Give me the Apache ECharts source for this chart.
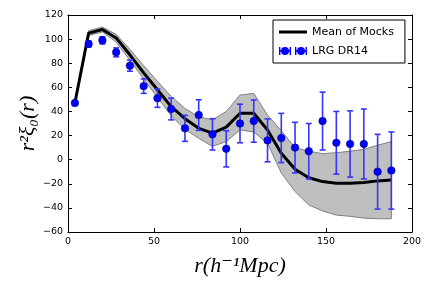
<!DOCTYPE html>
<html><head><meta charset="utf-8">
<script src="https://cdn.jsdelivr.net/npm/echarts@6/dist/echarts.min.js"></script>
<style>html,body{margin:0;padding:0;background:#fff}#c{width:432px;height:288px}</style>
</head><body><div id="c"></div>
<script>
const r = [4,12,20,28,36,44,52,60,68,76,84,92,100,108,116,124,132,140,148,156,164,172,180,188];
const xiData = [47,96,99,89,78,61,51,42,26,37,21,9,30,32,16,18,10,7,32,14,13,13,-10,-9];
const xiErr = [2,2.5,3,3.7,4.6,6,7.6,9,10.8,12.7,13,15,16,17.5,17.8,20.4,21,23,24,26,27.5,29,31,32];
const mockMean = [47,105,108,101,87,72,58,44,34,26,22,27,38.5,38.5,24.6,5.3,-8,-15,-18.2,-19.6,-19.6,-19,-17.6,-16.8];
const mockUpper = [49,107,110,104,91.5,78,65,52.5,42.5,35.6,33,40,53.6,55,37,24,10,7,5,5.8,7,8.6,12,15];
const mockLower = [46,103,106,97.5,82.5,67,51.5,36.5,25,17.7,11,15,24.6,23,13.6,-11,-26.5,-37.6,-42.5,-46,-47,-48.5,-49,-49];
const xTicks = [0,50,100,150,200];
const yTicks = [-60,-40,-20,0,20,40,60,80,100,120];

const chart = echarts.init(document.getElementById('c'), null, {renderer:'canvas'});
const tickFont = {fontFamily:'DejaVu Sans', fontSize:9.5, color:'#000'};
const titleFont = {fontFamily:"'Liberation Serif','DejaVu Serif',serif", fontStyle:'italic', fontSize:22, color:'#000'};
const axLine = {show:true, onZero:false, lineStyle:{color:'#000', width:1}};
const axTick = {show:true, inside:true, length:4, lineStyle:{color:'#000', width:1}};
const xBase = {type:'value', min:xTicks[0], max:xTicks[xTicks.length-1], interval:xTicks[1]-xTicks[0], splitLine:{show:false}, axisLine:axLine, axisTick:axTick};
const yBase = {type:'value', min:yTicks[0], max:yTicks[yTicks.length-1], interval:yTicks[1]-yTicks[0], splitLine:{show:false}, axisLine:axLine, axisTick:axTick};
const errIcon = 'path://M0,2h1.4v8h-1.4z M10.6,2h1.4v8h-1.4z M0,5.3h12v1.4h-12z M2,6a4,4 0 1,1 8,0a4,4 0 1,1 -8,0z M16,2h1.4v8h-1.4z M26.6,2h1.4v8h-1.4z M16,5.3h12v1.4h-12z M18,6a4,4 0 1,1 8,0a4,4 0 1,1 -8,0z';
const lineIcon = 'path://M0,0h28v3h-28z';

chart.setOption({
  animation:false,
  grid:{left:68, right:20, top:15, bottom:56},
  xAxis:[
    Object.assign({}, xBase, {position:'bottom', axisLabel:Object.assign({margin:5}, tickFont),
      name:'r(h\u207B\u00B9Mpc)', nameLocation:'middle', nameGap:23, nameMoveOverlap:false, nameTextStyle:titleFont}),
    Object.assign({}, xBase, {position:'top', axisLabel:{show:false}})
  ],
  yAxis:[
    Object.assign({}, yBase, {position:'left', axisLabel:Object.assign({margin:5, formatter:v=>String(v).replace('-','\u2212')}, tickFont),
      name:'r\u00B2\u03BE\u2080(r)', nameLocation:'middle', nameGap:29, nameMoveOverlap:false, nameRotate:90, nameTextStyle:titleFont}),
    Object.assign({}, yBase, {position:'right', axisLabel:{show:false}})
  ],
  legend:{left:273, top:20, orient:'vertical', backgroundColor:'#fff', borderColor:'#000', borderWidth:1, borderRadius:0,
    padding:[5,11,5,6], itemGap:5, itemWidth:28, itemHeight:12, symbolKeepAspect:true,
    textStyle:{fontFamily:'DejaVu Sans', fontSize:11, color:'#000', lineHeight:14},
    data:[{name:'Mean of Mocks', icon:lineIcon, itemStyle:{color:'#000'}}, {name:'LRG DR14', icon:errIcon, itemStyle:{color:'#0000ff'}}]},
  series:[
    {type:'custom', name:'band', silent:true, z:1,
      data:r.map((x,i)=>[x, mockUpper[i], mockLower[i]]),
      encode:{x:0, y:[1,2]},
      renderItem:function(params, api){
        if (params.dataIndex !== 0) return null;
        const pts = [];
        for (let i=0;i<r.length;i++) pts.push(api.coord([r[i], mockUpper[i]]));
        for (let i=r.length-1;i>=0;i--) pts.push(api.coord([r[i], mockLower[i]]));
        return {type:'polygon', shape:{points:pts}, style:{fill:'#bfbfbf', stroke:'#808080', lineWidth:1}};
      }},
    {type:'line', name:'Mean of Mocks', z:3, symbol:'none', data:r.map((x,i)=>[x, mockMean[i]]),
      lineStyle:{color:'#000', width:3}, itemStyle:{color:'#000'}},
    {type:'custom', name:'LRG DR14', z:4, silent:true,
      data:r.map((x,i)=>[x, xiData[i], xiErr[i]]),
      encode:{x:0, y:1},
      itemStyle:{color:'#0000ff'},
      renderItem:function(params, api){
        const x = api.value(0), y = api.value(1), e = api.value(2);
        const top = api.coord([x, y+e]), bot = api.coord([x, y-e]);
        const hw = 3;
        const st = {stroke:'#3535ff', lineWidth:1.6};
        return {type:'group', children:[
          {type:'line', shape:{x1:top[0],y1:top[1],x2:bot[0],y2:bot[1]}, style:st},
          {type:'line', shape:{x1:top[0]-hw,y1:top[1],x2:top[0]+hw,y2:top[1]}, style:st},
          {type:'line', shape:{x1:bot[0]-hw,y1:bot[1],x2:bot[0]+hw,y2:bot[1]}, style:st}
        ]};
      }},
    {type:'scatter', name:'LRG DR14', z:5, symbol:'circle', symbolSize:7.5,
      data:r.map((x,i)=>[x, xiData[i]]),
      itemStyle:{color:'#0000ff', borderColor:'#000080', borderWidth:0.6, opacity:1}}
  ]
});
</script></body></html>
